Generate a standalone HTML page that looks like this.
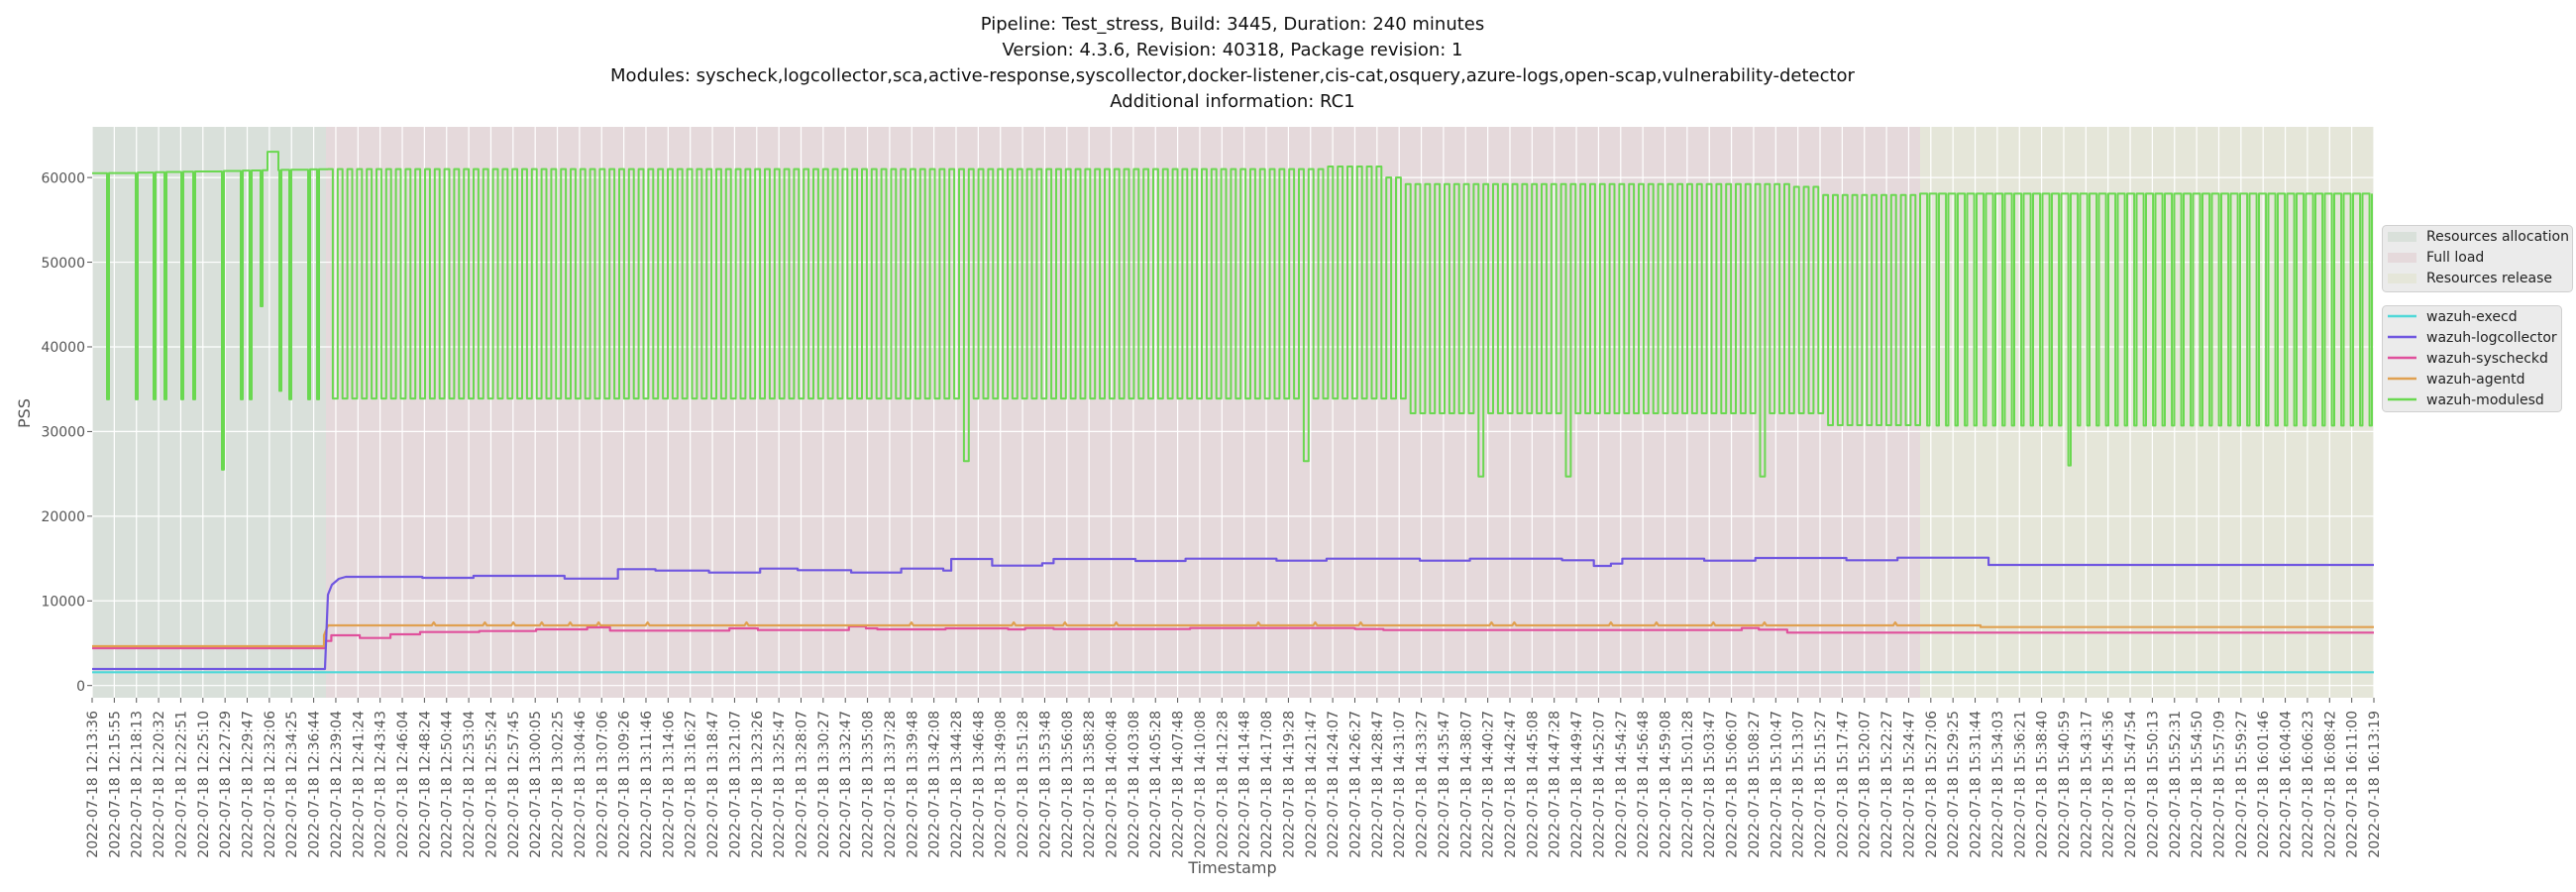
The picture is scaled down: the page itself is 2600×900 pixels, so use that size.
<!DOCTYPE html>
<html><head><meta charset="utf-8">
<style>
html,body{margin:0;padding:0;background:#fff;}
svg{display:block;font-family:"DejaVu Sans","Liberation Sans",sans-serif;}
.tk{font-size:14px;fill:#555;}
</style></head>
<body>
<svg id="s" width="2600" height="900" viewBox="0 0 2600 900" xmlns="http://www.w3.org/2000/svg">
<rect width="2600" height="900" fill="#fff"/>
<g id="bg"></g>
<g id="grid"></g>
<g id="series"></g>
<g id="ticks"></g>
<g font-size="18" fill="#111" text-anchor="middle">
<text x="1244" y="30">Pipeline: Test_stress, Build: 3445, Duration: 240 minutes</text>
<text x="1244" y="56">Version: 4.3.6, Revision: 40318, Package revision: 1</text>
<text x="1244" y="82">Modules: syscheck,logcollector,sca,active-response,syscollector,docker-listener,cis-cat,osquery,azure-logs,open-scap,vulnerability-detector</text>
<text x="1244" y="108">Additional information: RC1</text>
</g>
<g class="tk" text-anchor="end">
<text x="86" y="697">0</text>
<text x="86" y="611.6">10000</text>
<text x="86" y="526.2">20000</text>
<text x="86" y="440.6">30000</text>
<text x="86" y="355.2">40000</text>
<text x="86" y="269.8">50000</text>
<text x="86" y="184.4">60000</text>
</g>
<text transform="translate(30,417) rotate(-90)" text-anchor="middle" font-size="16" fill="#555">PSS</text>
<text x="1244" y="881" text-anchor="middle" font-size="16" fill="#555">Timestamp</text>
<g id="xl" class="tk" text-anchor="end">
<text>2022-07-18 12:13:36</text><text>2022-07-18 12:15:55</text><text>2022-07-18 12:18:13</text><text>2022-07-18 12:20:32</text><text>2022-07-18 12:22:51</text><text>2022-07-18 12:25:10</text><text>2022-07-18 12:27:29</text><text>2022-07-18 12:29:47</text><text>2022-07-18 12:32:06</text><text>2022-07-18 12:34:25</text><text>2022-07-18 12:36:44</text><text>2022-07-18 12:39:04</text><text>2022-07-18 12:41:24</text><text>2022-07-18 12:43:43</text><text>2022-07-18 12:46:04</text><text>2022-07-18 12:48:24</text><text>2022-07-18 12:50:44</text><text>2022-07-18 12:53:04</text><text>2022-07-18 12:55:24</text><text>2022-07-18 12:57:45</text><text>2022-07-18 13:00:05</text><text>2022-07-18 13:02:25</text><text>2022-07-18 13:04:46</text><text>2022-07-18 13:07:06</text><text>2022-07-18 13:09:26</text><text>2022-07-18 13:11:46</text><text>2022-07-18 13:14:06</text><text>2022-07-18 13:16:27</text><text>2022-07-18 13:18:47</text><text>2022-07-18 13:21:07</text><text>2022-07-18 13:23:26</text><text>2022-07-18 13:25:47</text><text>2022-07-18 13:28:07</text><text>2022-07-18 13:30:27</text><text>2022-07-18 13:32:47</text><text>2022-07-18 13:35:08</text><text>2022-07-18 13:37:28</text><text>2022-07-18 13:39:48</text><text>2022-07-18 13:42:08</text><text>2022-07-18 13:44:28</text><text>2022-07-18 13:46:48</text><text>2022-07-18 13:49:08</text><text>2022-07-18 13:51:28</text><text>2022-07-18 13:53:48</text><text>2022-07-18 13:56:08</text><text>2022-07-18 13:58:28</text><text>2022-07-18 14:00:48</text><text>2022-07-18 14:03:08</text><text>2022-07-18 14:05:28</text><text>2022-07-18 14:07:48</text><text>2022-07-18 14:10:08</text><text>2022-07-18 14:12:28</text><text>2022-07-18 14:14:48</text><text>2022-07-18 14:17:08</text><text>2022-07-18 14:19:28</text><text>2022-07-18 14:21:47</text><text>2022-07-18 14:24:07</text><text>2022-07-18 14:26:27</text><text>2022-07-18 14:28:47</text><text>2022-07-18 14:31:07</text><text>2022-07-18 14:33:27</text><text>2022-07-18 14:35:47</text><text>2022-07-18 14:38:07</text><text>2022-07-18 14:40:27</text><text>2022-07-18 14:42:47</text><text>2022-07-18 14:45:08</text><text>2022-07-18 14:47:28</text><text>2022-07-18 14:49:47</text><text>2022-07-18 14:52:07</text><text>2022-07-18 14:54:27</text><text>2022-07-18 14:56:48</text><text>2022-07-18 14:59:08</text><text>2022-07-18 15:01:28</text><text>2022-07-18 15:03:47</text><text>2022-07-18 15:06:07</text><text>2022-07-18 15:08:27</text><text>2022-07-18 15:10:47</text><text>2022-07-18 15:13:07</text><text>2022-07-18 15:15:27</text><text>2022-07-18 15:17:47</text><text>2022-07-18 15:20:07</text><text>2022-07-18 15:22:27</text><text>2022-07-18 15:24:47</text><text>2022-07-18 15:27:06</text><text>2022-07-18 15:29:25</text><text>2022-07-18 15:31:44</text><text>2022-07-18 15:34:03</text><text>2022-07-18 15:36:21</text><text>2022-07-18 15:38:40</text><text>2022-07-18 15:40:59</text><text>2022-07-18 15:43:17</text><text>2022-07-18 15:45:36</text><text>2022-07-18 15:47:54</text><text>2022-07-18 15:50:13</text><text>2022-07-18 15:52:31</text><text>2022-07-18 15:54:50</text><text>2022-07-18 15:57:09</text><text>2022-07-18 15:59:27</text><text>2022-07-18 16:01:46</text><text>2022-07-18 16:04:04</text><text>2022-07-18 16:06:23</text><text>2022-07-18 16:08:42</text><text>2022-07-18 16:11:00</text><text>2022-07-18 16:13:19</text>
</g>
<rect x="2404.5" y="227.5" width="192" height="67" rx="4" fill="#ebebeb" stroke="#d0d0d0"/>
<rect x="2410" y="234" width="29" height="10" fill="#d9e0da"/>
<rect x="2410" y="255" width="29" height="10" fill="#e5d9db"/>
<rect x="2410" y="276" width="29" height="10" fill="#e5e6d9"/>
<g font-size="14" fill="#222">
<text x="2449" y="243">Resources allocation</text>
<text x="2449" y="264">Full load</text>
<text x="2449" y="285">Resources release</text>
</g>
<rect x="2404.5" y="308.5" width="181" height="107" rx="4" fill="#ebebeb" stroke="#d0d0d0"/>
<g stroke-width="2.5">
<line x1="2410" x2="2439" y1="319" y2="319" stroke="#4fd8d8"/>
<line x1="2410" x2="2439" y1="340" y2="340" stroke="#7057e0"/>
<line x1="2410" x2="2439" y1="361" y2="361" stroke="#e0509c"/>
<line x1="2410" x2="2439" y1="382" y2="382" stroke="#e0a050"/>
<line x1="2410" x2="2439" y1="403" y2="403" stroke="#6ad850"/>
</g>
<g font-size="14" fill="#222">
<text x="2449" y="324">wazuh-execd</text>
<text x="2449" y="345">wazuh-logcollector</text>
<text x="2449" y="366">wazuh-syscheckd</text>
<text x="2449" y="387">wazuh-agentd</text>
<text x="2449" y="408">wazuh-modulesd</text>
</g>
</svg>
<script>
(function(){
var NS="http://www.w3.org/2000/svg";
var X0=93,X1=2396,Y0=128,Y1=704,DX=(X1-X0)/103,XA=329;
function yv(v){return 691.7-v*0.008543;}
function el(p,t,a){var e=document.createElementNS(NS,t);for(var k in a)e.setAttribute(k,a[k]);p.appendChild(e);return e;}
var bg=document.getElementById('bg');
el(bg,'rect',{x:X0,y:Y0,width:XA-X0,height:Y1-Y0,fill:'#d9e0da'});
el(bg,'rect',{x:XA,y:Y0,width:1938-XA,height:Y1-Y0,fill:'#e5d9db'});
el(bg,'rect',{x:1938,y:Y0,width:X1-1938,height:Y1-Y0,fill:'#e5e6d9'});
var g=document.getElementById('grid'),tk=document.getElementById('ticks');
for(var i=0;i<104;i++){var x=X0+i*DX;
 el(g,'line',{x1:x,x2:x,y1:Y0,y2:Y1,stroke:'#fff','stroke-width':1.2});
 el(tk,'line',{x1:x,x2:x,y1:Y1,y2:Y1+5,stroke:'#555','stroke-width':1});}
for(var v=0;v<=60000;v+=10000){var y=yv(v);
 el(g,'line',{x1:X0,x2:X1,y1:y,y2:y,stroke:'#fff','stroke-width':1.2});
 el(tk,'line',{x1:X0-5,x2:X0,y1:y,y2:y,stroke:'#555','stroke-width':1});}
var ts=document.getElementById('xl').children;
for(var i=0;i<ts.length;i++){var x=X0+i*DX+5;ts[i].setAttribute('transform','translate('+x.toFixed(1)+',717) rotate(-90)');}
var S=document.getElementById('series');
function line(d,c,w){el(S,'path',{d:d,fill:'none',stroke:c,'stroke-width':w||2.2,'stroke-linejoin':'round'});}
function zsteps(arr,y0,c){
 var d='M'+X0+','+y0+' H'+(XA-1);
 arr.forEach(function(a){var x=Math.max(XA-1,300+a[0]*1.148);d+=' H'+x.toFixed(1)+' V'+(530+a[1]/3).toFixed(1);});
 d+=' H'+X1;line(d,c);}
line('M'+X0+',678.3 H'+X1,'#4fd8d8');
zsteps([[25,350],[30,333],[55,341],[82,330],[108,323],[160,320],[210,315],[255,309],[275,319],[380,312],[405,317],[485,306],[500,312],[510,315],[570,312],[625,315],[640,311],[665,314],[785,311],[930,314],[955,317],[1270,311],[1285,316],[1310,325]],654,'#e0509c');
(function(){var d='M'+X0+',652 H'+(XA-2)+' V641 L'+(XA+2)+',631';var bumps=[120,165,190,215,240,265,308,395,540,630,675,720,845,895,935,1050,1070,1155,1195,1245,1290,1405];
 bumps.forEach(function(b){var bx=300+b*1.148;d+=' H'+(bx-2).toFixed(1)+' L'+bx.toFixed(1)+',628 L'+(bx+2).toFixed(1)+',631';});
 d+=' H'+(300+1480*1.148).toFixed(1)+' V632.7 H'+X1;line(d,'#e0a050');})();
(function(){var d='M'+X0+',675 H'+(XA-1)+' L'+(XA+2)+',600 L'+(XA+6)+',590 L'+(XA+13)+',584 L'+(XA+20)+',582';
 var a=[[110,583],[155,581],[235,583.8],[282,574.3],[315,575.7],[362,577.7],[407,573.7],[440,575.3],[487,577.7],[531,573.7],[568,575.7],[575,564],[611,570.7],[655,568.3],[665,564],[737,566],[781,563.7],[861,565.7],[905,563.7],[987,565.7],[1031,563.7],[1112,565.3],[1140,571],[1155,568.7],[1165,563.7],[1237,565.7],[1282,563],[1362,565.3],[1407,562.7],[1487,570]];
 a.forEach(function(p){d+=' H'+(300+p[0]*1.148).toFixed(1)+' V'+p[1];});
 d+=' H'+X1;line(d,'#7057e0');})();
(function(){
 var d='M'+X0+','+yv(60500).toFixed(1);
 var dips={108:33800,137:33800,155:33800,166:33800,183:33800,195:33800,224:25500,243:33800,252:33800,263:44800,282:34800,292:33800,311:33800,320:33800};
 var keys=Object.keys(dips).map(Number).sort(function(a,b){return a-b;});
 function topA(x){return 60500+(x-X0)/(XA-X0)*500;}
 keys.forEach(function(k){
  var t=yv(topA(k)).toFixed(1);
  d+=' H'+k+' V'+yv(dips[k]).toFixed(1)+' H'+(k+2)+' V'+t;
  if(k===263){d+=' H270 V'+yv(63050).toFixed(1)+' H281 V'+t;}
 });
 d+=' H'+(XA+2);
 var deep={973:26500,1315:26500,1497:24700,1578:24700,1778:24700};
 var dk=Object.keys(deep).map(Number);
 var P=9.8;
 for(var x=XA+2;x<1938;x+=P){
  var top=x<1340?61000:(x<1395?61300:(x<1411?60000:(x<1810?59230:(x<1836?58900:57940))));
  var low=x<1411?33900:(x<1836?32150:30750);
  for(var j=0;j<dk.length;j++){if(dk[j]>=x&&dk[j]<x+P)low=deep[dk[j]];}
  d+=' V'+yv(top).toFixed(1)+' H'+(x+P/2).toFixed(1)+' V'+yv(low).toFixed(1)+' H'+Math.min(x+P,1938).toFixed(1);
 }
 var P2=9.5;
 for(var x=1938;x<X1-2;x+=P2){
  var low=30700; if(2084>=x&&2084<x+P2)low=26000;
  d+=' V'+yv(58100).toFixed(1)+' H'+(x+P2*0.75).toFixed(1)+' V'+yv(low).toFixed(1)+' H'+Math.min(x+P2,X1).toFixed(1);
 }
 d+=' V'+yv(58100).toFixed(1);
 line(d,'#6ad850',2);
})();
})();
</script>
</body></html>
